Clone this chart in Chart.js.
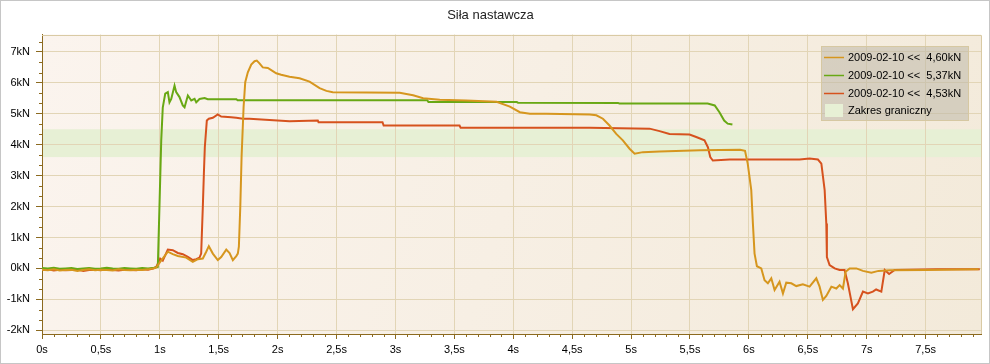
<!DOCTYPE html>
<html>
<head>
<meta charset="utf-8">
<title>Siła nastawcza</title>
<script src="https://cdn.jsdelivr.net/npm/chart.js@4.4.1/dist/chart.umd.min.js"></script>
<style>
  html, body { margin: 0; padding: 0; background: #fff; }
  #wrap { position: relative; width: 990px; height: 364px; }
</style>
</head>
<body>
<div id="wrap"><canvas id="chart" width="990" height="364"></canvas></div>
<script>
// ---- data (time in s, force in kN) ----
const orangeT = [
  0, 0.05, 0.1, 0.15, 0.2, 0.25, 0.3, 0.35, 0.4, 0.45,
  0.5, 0.55, 0.6, 0.65, 0.7, 0.75, 0.8, 0.85, 0.9, 0.94,
  0.97, 1.003, 1.068, 1.11, 1.153, 1.224, 1.28, 1.323, 1.365, 1.394,
  1.416, 1.45, 1.492, 1.521, 1.564, 1.592, 1.62, 1.649, 1.662, 1.671,
  1.683, 1.694, 1.711, 1.725, 1.747, 1.776, 1.804, 1.823, 1.846, 1.874,
  1.917, 1.959, 1.988, 2.03, 2.101, 2.186, 2.271, 2.356, 2.414, 2.468,
  3.036, 3.15, 3.235, 3.376, 3.6, 3.858, 3.971, 4.056, 4.141, 4.28,
  4.648, 4.705, 4.761, 4.817, 4.874, 4.93, 4.987, 5.03, 5.1, 5.242,
  5.586, 5.925, 5.967, 5.99, 6.02, 6.034, 6.048, 6.068, 6.105, 6.133,
  6.161, 6.19, 6.218, 6.26, 6.289, 6.317, 6.36, 6.402, 6.458, 6.515,
  6.572, 6.6, 6.628, 6.657, 6.7, 6.742, 6.77, 6.798, 6.821, 6.855,
  6.912, 6.968, 7.039, 7.1, 7.195, 7.5, 7.95
];
const orangeV = [
  -0.04, -0.06, -0.03, -0.07, -0.05, -0.04, -0.08, -0.05, -0.03, -0.06,
  -0.04, -0.05, -0.07, -0.03, -0.05, -0.06, -0.04, -0.05, -0.03, 0.0,
  0.03, 0.21, 0.54, 0.46, 0.4, 0.35, 0.21, 0.3, 0.32, 0.54,
  0.72, 0.48, 0.27, 0.37, 0.61, 0.5, 0.27, 0.4, 0.48, 0.7,
  1.99, 3.6, 5.21, 6.02, 6.34, 6.59, 6.7, 6.72, 6.63, 6.5,
  6.48, 6.38, 6.31, 6.26, 6.2, 6.15, 6.04, 5.83, 5.74, 5.7,
  5.68, 5.6, 5.5, 5.45, 5.43, 5.39, 5.23, 5.05, 5.0, 5.0,
  4.98, 4.95, 4.84, 4.62, 4.35, 4.14, 3.87, 3.71, 3.76, 3.78,
  3.82, 3.84, 3.8, 3.39, 2.53, 1.45, 0.48, 0.07, 0.0, -0.38,
  -0.48, -0.32, -0.7, -0.43, -0.81, -0.46, -0.48, -0.57, -0.51, -0.59,
  -0.32, -0.59, -1.02, -0.89, -0.59, -0.65, -0.54, -0.65, -0.11, 0.0,
  0.0, -0.08, -0.14, -0.08, -0.06, -0.05, -0.03
];

const greenT = [
  0, 0.05, 0.1, 0.15, 0.2, 0.25, 0.3, 0.35, 0.4, 0.45,
  0.5, 0.55, 0.6, 0.65, 0.7, 0.75, 0.8, 0.85, 0.9, 0.95,
  0.983, 0.997, 1.012, 1.025, 1.046, 1.068, 1.082, 1.097, 1.125, 1.139,
  1.167, 1.195, 1.21, 1.238, 1.267, 1.295, 1.309, 1.337, 1.38, 1.407,
  1.65, 1.66, 3.27, 3.28, 4.03, 4.04, 4.89, 4.9, 5.65, 5.71,
  5.75, 5.79, 5.82, 5.86
];
const greenV = [
  0.01, 0.0, 0.02, -0.01, 0.0, 0.01, -0.02, 0.0, 0.01, -0.01,
  0.0, 0.02, 0.0, -0.01, 0.01, 0.0, -0.01, 0.01, 0.0, 0.02,
  0.05, 2.0, 4.14, 5.2, 5.65, 5.7, 5.37, 5.48, 5.91, 5.7,
  5.54, 5.27, 5.21, 5.59, 5.43, 5.48, 5.37, 5.48, 5.51, 5.47,
  5.47, 5.44, 5.44, 5.38, 5.38, 5.36, 5.35, 5.33, 5.33, 5.27,
  5.05, 4.78, 4.68, 4.65
];

const redT = [
  0, 0.05, 0.1, 0.15, 0.2, 0.25, 0.3, 0.35, 0.4, 0.45,
  0.5, 0.55, 0.6, 0.65, 0.7, 0.75, 0.8, 0.85, 0.9, 0.95,
  0.97, 1.003, 1.025, 1.068, 1.11, 1.153, 1.195, 1.238, 1.28, 1.309,
  1.337, 1.351, 1.365, 1.374, 1.382, 1.399, 1.416, 1.45, 1.492, 1.521,
  1.606, 1.649, 1.705, 1.761, 1.931, 2.101, 2.341, 2.347, 2.89, 2.9,
  3.544, 3.553, 4.648, 5.157, 5.242, 5.326, 5.496, 5.553, 5.623, 5.652,
  5.672, 5.694, 5.836, 6.43, 6.515, 6.586, 6.615, 6.643, 6.657, 6.662,
  6.685, 6.728, 6.77, 6.812, 6.84, 6.883, 6.925, 6.968, 7.01, 7.052,
  7.08, 7.124, 7.153, 7.19, 7.237, 7.6, 7.96
];
const redV = [
  -0.05, -0.03, -0.07, -0.04, -0.06, -0.05, -0.03, -0.08, -0.05, -0.04,
  -0.06, -0.03, -0.05, -0.07, -0.04, -0.05, -0.06, -0.03, -0.04, 0.0,
  0.05, 0.32, 0.25, 0.61, 0.59, 0.5, 0.46, 0.37, 0.27, 0.3,
  0.35, 0.48, 1.99, 3.06, 3.92, 4.78, 4.84, 4.87, 4.98, 4.91,
  4.89, 4.87, 4.84, 4.84, 4.8, 4.76, 4.78, 4.73, 4.73, 4.62,
  4.62, 4.55, 4.55, 4.52, 4.44, 4.35, 4.33, 4.25, 4.14, 3.92,
  3.6, 3.49, 3.52, 3.52, 3.55, 3.52, 3.39, 2.53, 1.45, 0.37,
  0.11, 0.0, -0.05, -0.05, -0.48, -1.32, -1.13, -0.75, -0.81, -0.75,
  -0.68, -0.75, -0.05, -0.18, -0.05, -0.03, -0.03
];

const seriesLabels = [
  '2009-02-10 <<  4,60kN',
  '2009-02-10 <<  5,37kN',
  '2009-02-10 <<  4,53kN'
];
const seriesColors = ['#d6961e', '#68a814', '#d6521e'];
const limitLabel = 'Zakres graniczny';
const limitRange = [3.6, 4.5];   // kN
const limitColor = '#e7f0d5';

// axis ranges & ticks
const xMin = 0, xMax = 7.97;
const yMin = -2.12, yMax = 7.56;
const xTickValues = [];
for (let i = 0; i <= 79; i++) xTickValues.push(i / 10);
const yTickValues = [];
for (let k = -6; k <= 22; k++) yTickValues.push(k / 3);

const AXIS = '#8c6a1f';
const GRID = '#e2d5b6';
const FONT = 'Liberation Sans';

const isHalf = v => Math.abs(v * 2 - Math.round(v * 2)) < 1e-6;
const isInt = v => Math.abs(v - Math.round(v)) < 1e-6;

const toPoints = (ts, vs) => ts.map((t, i) => ({ x: t, y: vs[i] }));

// ---- background, band, frame, minor ticks, legend ----
const decor = {
  id: 'decor',
  beforeDraw(chart) {
    const { ctx, chartArea: a, scales } = chart;
    ctx.save();
    ctx.fillStyle = '#fff';
    ctx.fillRect(0, 0, chart.width, chart.height);
    const g = ctx.createLinearGradient(a.left, a.top, a.right, a.bottom);
    g.addColorStop(0, '#fbf4ee');
    g.addColorStop(1, '#f3eada');
    ctx.fillStyle = g;
    ctx.fillRect(a.left, a.top, a.right - a.left, a.bottom - a.top);
    // limit band
    const y1 = scales.y.getPixelForValue(limitRange[1]);
    const y0 = scales.y.getPixelForValue(limitRange[0]);
    ctx.fillStyle = limitColor;
    ctx.fillRect(a.left, y1, a.right - a.left, y0 - y1);
    ctx.restore();
  },
  afterDraw(chart) {
    const { ctx, chartArea: a, scales } = chart;
    ctx.save();
    // top / right frame of plot
    ctx.strokeStyle = '#d9caa4';
    ctx.lineWidth = 1;
    ctx.beginPath();
    ctx.moveTo(a.left, Math.round(a.top) + 0.5);
    ctx.lineTo(Math.round(a.right) + 0.5, Math.round(a.top) + 0.5);
    ctx.lineTo(Math.round(a.right) + 0.5, a.bottom);
    ctx.stroke();

    // minor ticks
    ctx.strokeStyle = AXIS;
    ctx.beginPath();
    yTickValues.forEach(v => {
      if (isInt(v)) return;
      const y = Math.round(scales.y.getPixelForValue(v)) + 0.5;
      ctx.moveTo(a.left - 3, y);
      ctx.lineTo(a.left, y);
    });
    xTickValues.forEach(v => {
      if (isHalf(v)) return;
      const x = Math.round(scales.x.getPixelForValue(v)) + 0.5;
      ctx.moveTo(x, a.bottom);
      ctx.lineTo(x, a.bottom + 3);
    });
    ctx.stroke();

    // legend box
    const bw = 148, bh = 75;
    const bx = Math.round(a.right) - 12 - bw;
    const by = Math.round(a.top) + 11;
    ctx.fillStyle = 'rgba(190,184,168,0.55)';
    ctx.fillRect(bx, by, bw, bh);
    ctx.strokeStyle = '#d6c8a2';
    ctx.strokeRect(bx + 0.5, by + 0.5, bw - 1, bh - 1);
    ctx.font = '11px "' + FONT + '"';
    ctx.textBaseline = 'middle';
    ctx.fillStyle = '#000';
    const rows = [11, 29, 47, 65];
    chart.data.datasets.forEach((ds, i) => {
      const y = by + rows[i] + 0.5;
      ctx.strokeStyle = ds.borderColor;
      ctx.lineWidth = 1.5;
      ctx.beginPath();
      ctx.moveTo(bx + 3, y);
      ctx.lineTo(bx + 23, y);
      ctx.stroke();
      ctx.fillText(ds.label, bx + 27, y);
    });
    ctx.fillStyle = limitColor;
    ctx.fillRect(bx + 4, by + rows[3] - 7, 18, 13);
    ctx.fillStyle = '#000';
    ctx.fillText(limitLabel, bx + 27, by + rows[3]);

    // outer widget border
    ctx.strokeStyle = '#c6c6c6';
    ctx.lineWidth = 1;
    ctx.strokeRect(0.5, 0.5, chart.width - 1, chart.height - 1);
    ctx.restore();
  }
};

new Chart(document.getElementById('chart'), {
  type: 'line',
  data: {
    datasets: [
      { label: seriesLabels[0], data: toPoints(orangeT, orangeV), borderColor: seriesColors[0] },
      { label: seriesLabels[1], data: toPoints(greenT, greenV), borderColor: seriesColors[1] },
      { label: seriesLabels[2], data: toPoints(redT, redV), borderColor: seriesColors[2] }
    ]
  },
  options: {
    responsive: false,
    animation: false,
    datasets: {
      line: { borderWidth: 2, pointRadius: 0, tension: 0, fill: false }
    },
    layout: { padding: { left: 0, right: 9, top: 0, bottom: 0 } },
    plugins: {
      legend: { display: false },
      tooltip: { enabled: false },
      title: {
        display: true,
        text: 'Siła nastawcza',
        color: '#222',
        font: { family: FONT, size: 13, weight: 'normal' },
        padding: { top: 8, bottom: 11 }
      }
    },
    scales: {
      x: {
        type: 'linear',
        min: xMin,
        max: xMax,
        afterBuildTicks: s => { s.ticks = xTickValues.map(v => ({ value: v })); },
        afterFit: s => { s.height = 30; },
        border: { color: AXIS, width: 1 },
        grid: {
          color: c => (c.tick && isHalf(c.tick.value)) ? GRID : 'rgba(0,0,0,0)',
          tickColor: AXIS,
          tickLength: 5
        },
        ticks: {
          autoSkip: false,
          maxRotation: 0,
          padding: 4,
          color: '#000',
          font: { family: FONT, size: 11 },
          callback: v => isHalf(v) ? String(Math.round(v * 10) / 10).replace('.', ',') + 's' : null
        }
      },
      y: {
        type: 'linear',
        min: yMin,
        max: yMax,
        afterBuildTicks: s => { s.ticks = yTickValues.map(v => ({ value: v })); },
        afterFit: s => { s.width = 42; },
        border: { color: AXIS, width: 1 },
        grid: {
          color: c => (c.tick && isInt(c.tick.value)) ? GRID : 'rgba(0,0,0,0)',
          tickColor: AXIS,
          tickLength: 6
        },
        ticks: {
          autoSkip: false,
          padding: 6,
          color: '#000',
          font: { family: FONT, size: 11 },
          callback: v => isInt(v) ? Math.round(v) + 'kN' : null
        }
      }
    }
  },
  plugins: [decor]
});
</script>
</body>
</html>
